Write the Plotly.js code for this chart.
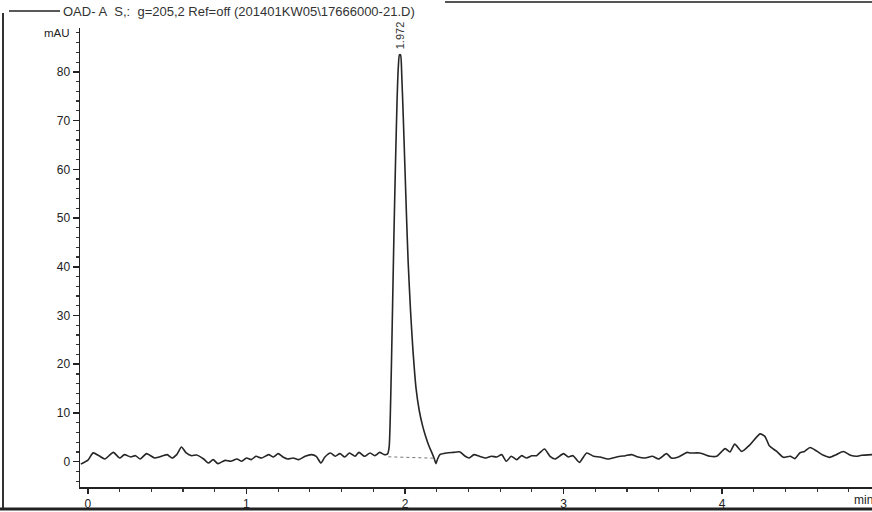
<!DOCTYPE html>
<html>
<head>
<meta charset="utf-8">
<script src="https://cdn.plot.ly/plotly-3.0.1.min.js"></script>
<style>
  html, body { margin: 0; padding: 0; background: #fff; }
  #chart { width: 872px; height: 512px; }
</style>
</head>
<body>
<div id="chart"></div>
<script>
// Retention time (min)
const timeMin = [
  -0.045, 0.0, 0.033, 0.07, 0.107, 0.16, 0.2, 0.23, 0.27, 0.30, 0.33, 0.37, 0.42, 0.45,
  0.50, 0.53, 0.56, 0.59, 0.62, 0.655, 0.685, 0.73, 0.76, 0.79, 0.82, 0.865, 0.90, 0.94,
  0.97, 1.0, 1.03, 1.06, 1.095, 1.14, 1.17, 1.2, 1.23, 1.26, 1.295, 1.33, 1.37, 1.41,
  1.44, 1.47, 1.495, 1.53, 1.56, 1.59, 1.62, 1.65, 1.685, 1.71, 1.745, 1.78, 1.81, 1.84,
  1.87, 1.89,
  1.9, 1.91, 1.92, 1.93, 1.94, 1.95, 1.958, 1.965, 1.972, 1.98, 1.99, 2.0, 2.01, 2.02,
  2.035, 2.05, 2.07, 2.09, 2.11, 2.13, 2.15, 2.17, 2.185, 2.195, 2.205,
  2.22, 2.263, 2.305, 2.347, 2.38, 2.405, 2.435, 2.47, 2.51, 2.545, 2.58, 2.61, 2.64,
  2.67, 2.705, 2.735, 2.767, 2.80, 2.83, 2.88, 2.915, 2.947, 3.0, 3.03, 3.06, 3.1,
  3.146, 3.19, 3.23, 3.28, 3.336, 3.39, 3.43, 3.47, 3.515, 3.56, 3.6, 3.65, 3.68, 3.725,
  3.78, 3.80, 3.86, 3.925, 3.966, 4.02, 4.05, 4.08, 4.124, 4.177, 4.24, 4.27, 4.3,
  4.345, 4.387, 4.43, 4.46, 4.49, 4.52, 4.555, 4.6, 4.64, 4.68, 4.72, 4.765, 4.81,
  4.85, 4.88, 4.946
];
// Detector signal (mAU), DAD 205,2 nm
const signalMAU = [
  -0.5, 0.3, 1.8, 1.2, 0.55, 1.9, 0.75, 1.44, 0.96, 1.23, 0.55, 1.65, 0.75, 0.96,
  1.44, 0.75, 1.44, 3.0, 1.78, 1.23, 1.37, 0.55, -0.27, 0.41, -0.41, 0.27, 0.07, 0.55,
  0.07, 0.75, 0.41, 1.1, 0.75, 1.44, 0.96, 1.65, 0.96, 0.55, 0.75, 0.41, 1.1, 1.44,
  1.1, -0.27, 0.96, 1.78, 1.1, 1.65, 0.96, 1.78, 1.1, 1.9, 1.1, 1.78, 1.23, 1.9,
  1.44, 1.6,
  3, 13, 29, 46, 61, 74, 81, 83.5, 83.5, 79, 70, 60, 50, 41,
  31, 23, 15, 10.5, 7.5, 5.2, 3.3, 1.8, 0.6, -0.4, 0.5,
  1.44, 1.78, 1.9, 2.0, 1.1, 0.75, 1.44, 1.1, 0.75, 1.1, 0.96, 1.44, 0.07,
  1.1, 0.41, 1.23, 0.75, 1.2, 1.23, 2.6, 1.1, 0.55, 1.65, 0.96, 1.23, -0.14,
  1.78, 1.1, 0.96, 0.55, 0.96, 1.23, 1.44, 0.96, 0.75, 1.1, 0.55, 1.65, 0.75, 0.96,
  1.9, 1.78, 1.78, 1.1, 1.1, 2.67, 1.99, 3.6, 2.1, 3.5, 5.7, 5.2, 3.2,
  2.1, 0.89, 1.1, 0.62, 1.78, 2.1, 2.9, 2.1, 1.3, 0.89, 1.44, 2.1, 1.3,
  1.1, 1.3, 1.44
];
// Integration baseline under the peak
const baselineTime = [1.895, 2.195];
const baselineMAU = [1.0, 0.7];
// Peak label
const peakTime = [1.968];
const peakHeight = [84];
const peakLabels = ["1.972"];
// Axis ticks
const xTickVals = [0, 1, 2, 3, 4];
const xTickText = ["0", "1", "2", "3", "4"];
const yTickVals = [0, 10, 20, 30, 40, 50, 60, 70, 80];
const yTickText = ["0", "10", "20", "30", "40", "50", "60", "70", "80"];

const W = 872, H = 512, L = 80, R = 0, T = 28, B = 25;
const pw = W - L - R, ph = H - T - B;
const px = x => (x - L) / pw;
const py = y => (H - B - y) / ph;

const FONT = 'Liberation Sans, Arial, sans-serif';

const traces = [
  {
    x: timeMin, y: signalMAU, type: 'scatter', mode: 'lines',
    line: { color: '#262626', width: 1.6, shape: 'spline', smoothing: 0.6 },
    hoverinfo: 'skip'
  },
  {
    x: baselineTime, y: baselineMAU, type: 'scatter', mode: 'lines',
    line: { color: '#777', width: 1, dash: 'dot' },
    hoverinfo: 'skip'
  }
];

const annotations = peakTime.map((t, i) => ({
  x: t, y: peakHeight[i], xref: 'x', yref: 'y', text: peakLabels[i],
  showarrow: false, textangle: -90, xanchor: 'center', yanchor: 'bottom', yshift: 1,
  font: { family: FONT, size: 11, color: '#333' }
}));
annotations.push(
  { xref: 'paper', yref: 'paper', x: px(72), y: py(33), text: 'mAU', showarrow: false,
    xanchor: 'right', yanchor: 'middle',
    font: { family: FONT, size: 11.5, color: '#222' } },
  { xref: 'paper', yref: 'paper', x: px(852), y: py(500), text: 'min', showarrow: false,
    xanchor: 'left', yanchor: 'middle',
    font: { family: FONT, size: 12, color: '#222' } },
  { xref: 'paper', yref: 'paper', x: px(61), y: py(11), showarrow: false,
    xanchor: 'left', yanchor: 'middle',
    text: 'OAD- A&nbsp;&nbsp;S,:&nbsp;&nbsp;g=205,2 Ref=off (201401KW05\\17666000-21.D)',
    font: { family: FONT, size: 13, color: '#333' } }
);

const frame = { color: '#333', width: 2 };
const shapes = [
  { type: 'line', xref: 'paper', yref: 'paper', x0: px(3), x1: px(3), y0: py(13), y1: py(510), line: frame },
  { type: 'line', xref: 'paper', yref: 'paper', x0: px(0), x1: px(872), y0: py(509), y1: py(509), line: { color: '#222', width: 3 } },
  { type: 'line', xref: 'paper', yref: 'paper', x0: px(445), x1: px(872), y0: py(2), y1: py(2), line: { color: '#555', width: 2 } },
  { type: 'line', xref: 'paper', yref: 'paper', x0: px(9), x1: px(60), y0: py(11), y1: py(11), line: { color: '#222', width: 1.5 } }
];

const tickFont = { family: FONT, size: 12, color: '#222' };

const layout = {
  width: W, height: H,
  margin: { l: L, r: R, t: T, b: B, pad: 0 },
  paper_bgcolor: '#fff', plot_bgcolor: '#fff',
  showlegend: false,
  xaxis: {
    range: [-0.05, 4.946],
    tickvals: xTickVals, ticktext: xTickText,
    showgrid: false, zeroline: false,
    showline: true, linecolor: '#222', linewidth: 1.5,
    ticks: 'outside', ticklen: 5, tickwidth: 1.5, tickcolor: '#222',
    tickfont: tickFont,
    minor: { dtick: 0.2, ticks: 'outside', ticklen: 3, tickwidth: 1.2, tickcolor: '#333', showgrid: false }
  },
  yaxis: {
    range: [-5.2, 89],
    tickvals: yTickVals, ticktext: yTickText,
    showgrid: false, zeroline: false,
    showline: true, linecolor: '#222', linewidth: 1.5,
    ticks: 'outside', ticklen: 6, tickwidth: 1.5, tickcolor: '#222',
    tickfont: tickFont,
    minor: { dtick: 2, ticks: 'outside', ticklen: 3, tickwidth: 1.2, tickcolor: '#333', showgrid: false }
  },
  annotations: annotations,
  shapes: shapes
};

Plotly.newPlot('chart', traces, layout, { staticPlot: true, displayModeBar: false });
</script>
</body>
</html>
